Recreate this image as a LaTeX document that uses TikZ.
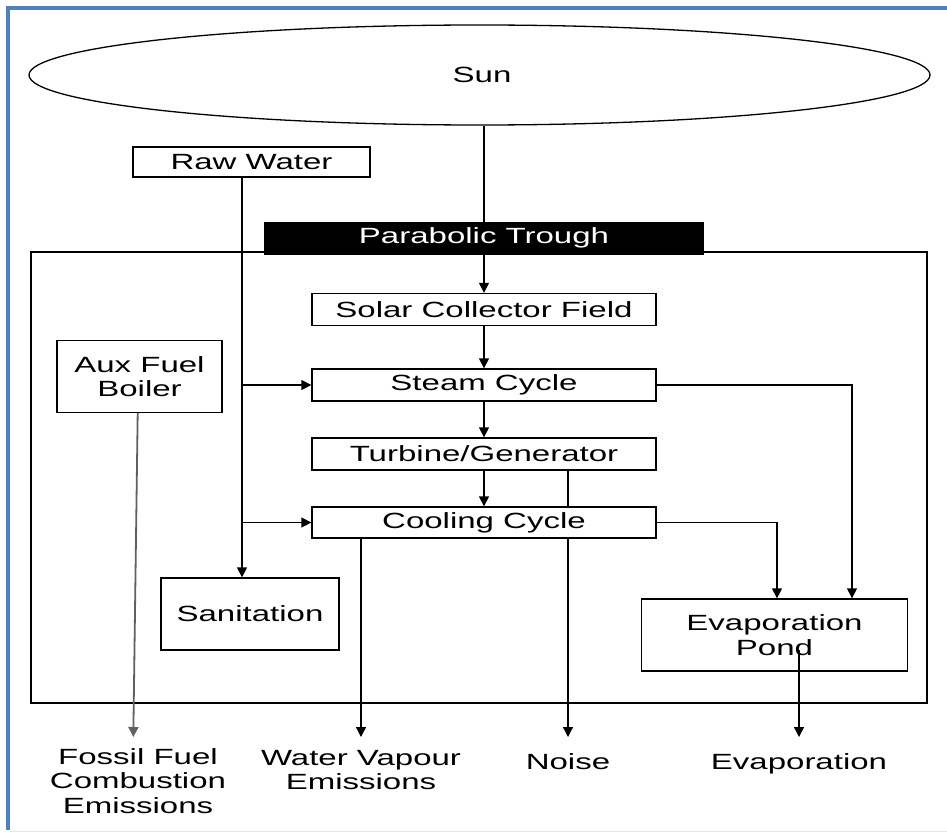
\documentclass[tikz,border=0pt]{standalone}
\usepackage{fontspec}
\setmainfont[FakeStretch=1.5]{Liberation Sans}
\usetikzlibrary{shapes.geometric,arrows.meta,calc,backgrounds}
\definecolor{framebl}{HTML}{4F81BD}
\begin{document}
\begin{tikzpicture}[x=1pt,y=-1pt,
  every node/.style={font=\fontsize{22}{24.5}\selectfont, inner sep=0pt},
  box/.style={draw, line width=1.3pt, fill=white, minimum width=#1, align=center},
  flow/.style={draw, line width=1.3pt, -{Triangle[length=10pt,width=10pt]}},
  lbl/.style={align=center, anchor=north}
]
\useasboundingbox (0,0) rectangle (947,832);
% outer frame
\draw[framebl, line width=4pt] (8,830) -- (8,8.5) -- (947,8.5);
\draw[gray!20, line width=1pt] (10,831) -- (947,831);

% container
\node[draw, line width=1.3pt, minimum width=896pt, minimum height=451pt] (plant) at (479,477.5) {};

% nodes
\node[draw, ellipse, line width=1.3pt, minimum width=901pt, minimum height=100pt] (sun) at (479.5,75) {};
\node at (482,75) {Sun};
\node[box=237pt, minimum height=30pt] (raw) at (251.5,162) {Raw Water};
\node[fill=black, text=white, minimum width=440pt, minimum height=33pt] (pt) at (484,238) {Parabolic Trough};
\node[box=344pt, minimum height=32pt] (scf) at (484,309.5) {Solar Collector Field};
\node[box=344pt, minimum height=32pt] (steam) at (484,385) {Steam Cycle};
\node[box=344pt, minimum height=32pt] (turb) at (484,454) {Turbine/Generator};
\node[box=344pt, minimum height=31pt] (cool) at (484,522.5) {Cooling Cycle};
\node[box=165pt, minimum height=72pt] (aux) at (139.5,376.5) {Aux Fuel\\Boiler};
\node[box=178pt, minimum height=72pt] (san) at (250,614) {Sanitation};
\node[box=266pt, minimum height=72pt] (pond) at (774.5,635) {Evaporation\\Pond};

% output labels
\node[lbl, inner ysep=11pt] (fossil) at (138,737) {Fossil Fuel\\Combustion\\Emissions};
\node[lbl, inner ysep=13pt] (wv) at (361,737) {Water Vapour\\Emissions};
\node[lbl, inner ysep=16pt] (noise) at (568,737) {Noise};
\node[lbl, inner ysep=16pt] (evap) at (799,737) {Evaporation};

% connectors
\begin{pgfonlayer}{background}
\draw[flow] (scf.north |- sun.south) -- (scf.north);
\draw[flow] (turb.south -| noise.north) -- (noise.north);
\end{pgfonlayer}
\draw[flow] (scf.south) -- (steam.north);
\draw[flow] (steam.south) -- (turb.north);
\draw[flow] (turb.south) -- (cool.north);

\coordinate (rwtop) at ($(raw.south)+(-9.5,0)$);
\draw[flow] (rwtop) -- (rwtop |- san.north);
\draw[flow] (rwtop |- steam.west) -- (steam.west);
\draw[flow] (rwtop |- cool.west) -- (cool.west);

\draw[flow] (steam.east) -| ($(pond.north)+(77.5,0)$);
\draw[flow] (cool.east) -| ($(pond.north)+(2.5,0)$);

\draw[flow, draw=gray!75!black, line width=1.8pt] ($(aux.south)+(-1.8,0)$) -- ($(fossil.north)+(-4.7,0)$);
\draw[flow] (cool.south -| wv.north) -- (wv.north);
\draw[flow] ($(evap.north |- pond.center)+(0,15)$) -- (evap.north);
\end{tikzpicture}
\end{document}
